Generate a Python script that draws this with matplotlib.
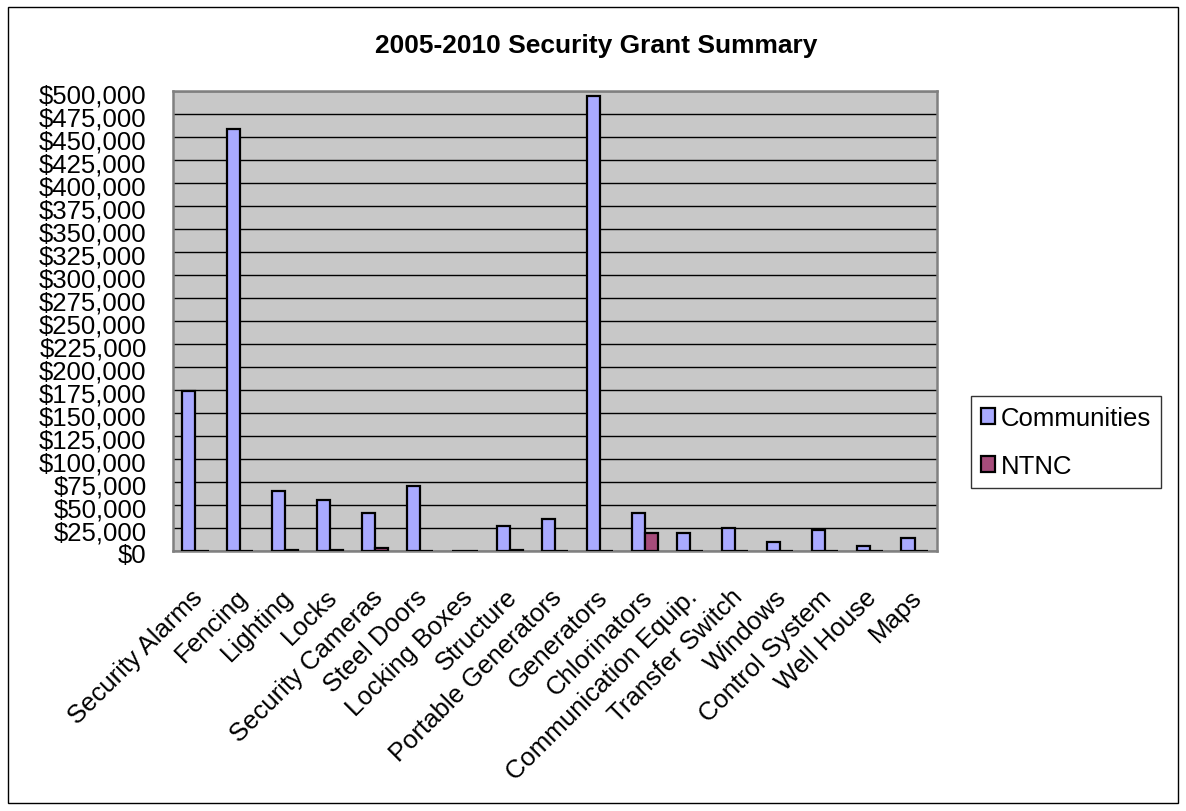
import numpy as np
import matplotlib.pyplot as plt
from matplotlib.patches import Rectangle
from matplotlib.ticker import FuncFormatter, MultipleLocator
from matplotlib.transforms import ScaledTranslation

# =========================
# DATA
# =========================

categories = [
    "Security Alarms", "Fencing", "Lighting", "Locks", "Security Cameras",
    "Steel Doors", "Locking Boxes", "Structure", "Portable Generators",
    "Generators", "Chlorinators", "Communication Equip.", "Transfer Switch",
    "Windows", "Control System", "Well House", "Maps",
]

communities = [
    173500, 458500, 65500, 55000, 40800,
    70500, 500, 26800, 34800,
    494500, 41000, 19300, 25000,
    9400, 22500, 5100, 14200,
]

ntnc = [
    0, 0, 800, 600, 2800,
    0, 0, 800, 0,
    0, 19300, 0, 0,
    0, 0, 0, 0,
]

# =========================
# STYLE
# =========================

plt.rcParams["font.family"] = ["Liberation Sans", "DejaVu Sans"]

COMM_COLOR = "#A9AAFF"
NTNC_COLOR = "#A64C7B"
PLOT_BG = "#C8C8C8"
FS = 18.5

fig = plt.figure(figsize=(11.86, 8.12), dpi=100)
fig.patches.append(Rectangle((8 / 1186, 8 / 812), 1170 / 1186, 796 / 812,
                             transform=fig.transFigure, fill=False,
                             edgecolor="black", linewidth=1.0))

ax = fig.add_axes([173 / 1186, 1 - 552 / 812, 764 / 1186, 460 / 812])
ax.set_facecolor(PLOT_BG)

x = np.arange(len(categories))
width = 0.29

ax.bar(x - width / 2, communities, width, color=COMM_COLOR,
       edgecolor="black", linewidth=1.6, label="Communities", zorder=3)
ax.bar(x + width / 2, ntnc, width, color=NTNC_COLOR,
       edgecolor="black", linewidth=1.6, label="NTNC", zorder=3)

ax.set_xlim(-0.5, len(categories) - 0.5)
ax.set_ylim(0, 500000)
ax.yaxis.set_major_locator(MultipleLocator(25000))
ax.yaxis.set_major_formatter(FuncFormatter(lambda v, p: f"${v:,.0f}"))
ax.grid(axis="y", color="black", linewidth=1.0, zorder=1)
ax.set_axisbelow(True)

for side in ["top", "right", "bottom", "left"]:
    ax.spines[side].set_color("#808080")
    ax.spines[side].set_linewidth(1.8)

ax.tick_params(axis="y", labelsize=FS, length=0, pad=19)
ax.tick_params(axis="x", length=0, pad=24)
ax.set_xticks(x)
ax.set_xticklabels(categories, rotation=45, ha="right",
                   rotation_mode="anchor", fontsize=FS)

for lbl in ax.get_xticklabels():
    lbl.set_transform(lbl.get_transform() + ScaledTranslation(-0.05, 0, fig.dpi_scale_trans))
for lbl in ax.get_yticklabels():
    lbl.set_transform(lbl.get_transform() + ScaledTranslation(0, -0.02, fig.dpi_scale_trans))

fig.text(596 / 1186, 1 - 46 / 812, "2005-2010 Security Grant Summary",
         ha="center", va="center", fontsize=19, fontweight="bold")

leg = fig.legend(loc="center", bbox_to_anchor=(1066 / 1186, 1 - 443 / 812),
                 fontsize=FS, frameon=True, fancybox=False,
                 handlelength=0.55, handleheight=0.55, handletextpad=0.25,
                 labelspacing=0.93, borderpad=0.38, borderaxespad=0)
leg.get_frame().set_edgecolor("black")
leg.get_frame().set_linewidth(1.0)

plt.savefig("out.png", dpi=100)
plt.close()
